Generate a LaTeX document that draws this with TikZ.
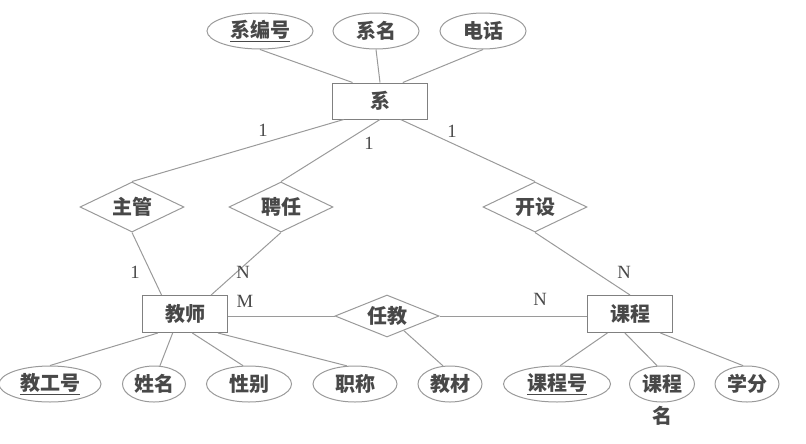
\documentclass[tikz,border=0pt]{standalone}
\usepackage{fontspec}
\setmainfont{Liberation Serif}
\newfontfamily\cjk{Noto Sans CJK SC}
\usetikzlibrary{shapes.geometric}
\definecolor{ln}{HTML}{9A9A9A}
\definecolor{bx}{HTML}{808080}
\definecolor{tx}{HTML}{484848}
\begin{document}
\begin{tikzpicture}[x=0.75pt,y=-0.75pt,
  every node/.style={text=tx, font=\cjk\bfseries\fontsize{15}{18}\selectfont, inner sep=0pt},
  attr/.style={ellipse, draw=ln, line width=0.75pt, minimum height=27pt},
  ent/.style={rectangle, draw=bx, line width=0.75pt, minimum width=63.75pt, minimum height=27.75pt},
  rel/.style={diamond, draw=ln, line width=0.75pt, aspect=2, minimum width=78pt, minimum height=37.5pt},
  card/.style={font=\rmfamily\fontsize{14}{16}\selectfont},
  conn/.style={draw=ln, line width=0.75pt}]
\useasboundingbox (0,0) rectangle (806,443);
% top attributes
\node[attr, minimum width=79.5pt] (a1) at (260,31) {\underline{系编号}};
\node[attr, minimum width=64.5pt] (a2) at (376,31) {系名};
\node[attr, minimum width=64.5pt] (a3) at (483,31) {电话};
\node[ent, minimum width=71.25pt, minimum height=27pt] (xi) at (380,101) {系};
% relationships
\node[rel] (r1) at (132,207) {主管};
\node[rel] (r2) at (281,207) {聘任};
\node[rel] (r3) at (535,207) {开设};
\node[rel, minimum height=31.5pt] (r4) at (387,316) {任教};
% entities
\node[ent] (js) at (185,314) {教师};
\node[ent] (kc) at (630,314) {课程};
% bottom attributes
\node[attr, minimum width=76.5pt] (b1) at (50,384) {\underline{教工号}};
\node[attr, minimum width=47.25pt] (b2) at (154,384) {姓名};
\node[attr, minimum width=63.75pt] (b3) at (249,384) {性别};
\node[attr, minimum width=63pt] (b4) at (355,384) {职称};
\node[attr, minimum width=48pt] (b5) at (450,384) {教材};
\node[attr, minimum width=80.25pt] (b6) at (557,384) {\underline{课程号}};
\node[attr, minimum width=48.75pt] (b7) at (662,384) {课程};
\node (b7n) at (662,416) {名};
\node[attr, minimum width=48pt] (b8) at (747,384) {学分};
% connectors
\draw[conn] (a1.south) -- (xi.146);
\draw[conn] (a2.south) -- (xi.north);
\draw[conn] (a3.south) -- (xi.39);
\draw[conn] (xi.207) -- (r1.north);
\draw[conn] (xi.south) -- (r2.north);
\draw[conn] (xi.-42) -- (r3.north);
\draw[conn] (r1.south) -- (js.141);
\draw[conn] (r2.south) -- (js.36);
\draw[conn] (r3.south) -- (kc.north);
\draw[conn] (r4.west) -- (r4.west -| js.east);
\draw[conn] (r4.east) -- (r4.east -| kc.west);
\draw[conn] (r4.-41) -- (b5.111);
\draw[conn] (js.-145) -- (b1.north);
\draw[conn] (js.-123) -- (b2.72);
\draw[conn] (js.-69) -- (b3.108);
\draw[conn] (js.-30) -- (b4.114);
\draw[conn] (kc.-140) -- (b6.80);
\draw[conn] (kc.-105) -- (b7.105);
\draw[conn] (kc.-32) -- (b8.102);
% cardinalities
\node[card] (c1) at (263,130) {1};
\node[card] (c2) at (369,143) {1};
\node[card] (c3) at (452,131) {1};
\node[card] (c4) at (135,272) {1};
\node[card] (c5) at (243,272) {N};
\node[card] (c6) at (245,301) {M};
\node[card] (c7) at (624,272) {N};
\node[card] (c8) at (540,299) {N};
\end{tikzpicture}
\end{document}
